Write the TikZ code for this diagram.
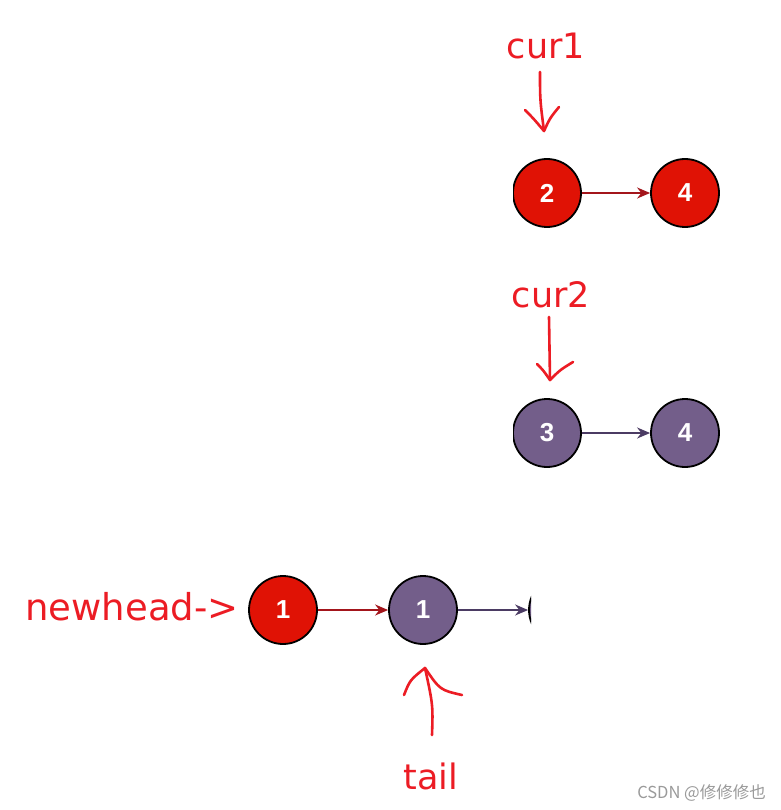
\documentclass[tikz,border=0pt]{standalone}
\usepackage{fontspec}
\setmainfont{DejaVu Sans}
\newfontfamily\nodefont{Liberation Sans}
\newfontfamily\cjkfont{Noto Sans CJK SC}
\usetikzlibrary{arrows.meta}
\definecolor{nodered}{HTML}{E01205}
\definecolor{nodepurple}{HTML}{735E8A}
\definecolor{inkred}{HTML}{EC1C24}
\definecolor{linkred}{HTML}{A3151B}
\definecolor{linkpurple}{HTML}{4B3B63}
\definecolor{markgray}{HTML}{9A9A9A}
\begin{document}
\begin{tikzpicture}[x=1pt,y=-1pt,
  listnode/.style={circle,draw=black,line width=1.8pt,minimum size=68pt,inner sep=0pt,text=white,font=\nodefont\bfseries\fontsize{26}{26}\selectfont},
  rednode/.style={listnode,fill=nodered},
  purplenode/.style={listnode,fill=nodepurple},
  link/.style={line width=1.8pt,-{Stealth[length=13pt,width=11pt]}},
  ink/.style={draw=inkred,line width=2.6pt,line cap=round,line join=round},
  inklabel/.style={text=inkred,font=\fontsize{35}{35}\selectfont,inner sep=0pt,anchor=base}]
\useasboundingbox[fill=white] (0,0) rectangle (780,810);

% top list (red)
\begin{scope}
  \clip (513,140) rectangle (780,250);
  \node[rednode] (n2) at (547,193) {2};
  \node[rednode] (n4) at (685,193) {4};
  \draw[link,linkred] (n2) -- (n4);
\end{scope}

% middle list (purple)
\begin{scope}
  \clip (513,380) rectangle (780,490);
  \node[purplenode] (n3) at (547,433) {3};
  \node[purplenode] (m4) at (685,433) {4};
  \draw[link,linkpurple] (n3) -- (m4);
\end{scope}

% bottom list
\node[rednode] (b1) at (283,610) {1};
\node[purplenode] (b2) at (423,610) {1};
\draw[link,linkred] (b1) -- (b2);
\begin{scope}
  \clip (0,560) rectangle (531,660);
  \node[purplenode] (b3) at (563,610) {};
  \draw[link,linkpurple] (b2) -- (b3);
\end{scope}

% hand-written labels
\node[inklabel] (cur1) at (546,59) {cur1};
\node[inklabel] (cur2) at (551,307) {cur2};
\node[inklabel,font=\fontsize{37}{37}\selectfont] (newhead) at (132,620) {newhead->};
\node[inklabel] (tail) at (431,789) {tail};

% hand-drawn arrows
\coordinate (c1top) at (540,72);
\coordinate (c1tip) at (544,131);
\draw[ink] (c1top) .. controls (540,100) .. (c1tip);
\draw[ink] (525,110) .. controls (533,118) .. (c1tip) .. controls (550,118) .. (559,107);

\coordinate (c2top) at (549,317);
\coordinate (c2tip) at (550,380);
\draw[ink] (c2top) -- (c2tip);
\draw[ink] (537,364) .. controls (543,370) .. (c2tip) .. controls (560,370) .. (573,362);

\coordinate (ttip) at (425,668);
\coordinate (tbot) at (432,735);
\draw[ink] (tbot) .. controls (433,705) .. (ttip);
\draw[ink] (404,695) .. controls (410,680) .. (ttip) .. controls (440,690) .. (462,695);

% watermark
\node[text=markgray,font=\cjkfont\fontsize{16.5}{16.5}\selectfont,anchor=base east,inner sep=0pt] (mark) at (766,798) {CSDN @修修修也};
\end{tikzpicture}
\end{document}
